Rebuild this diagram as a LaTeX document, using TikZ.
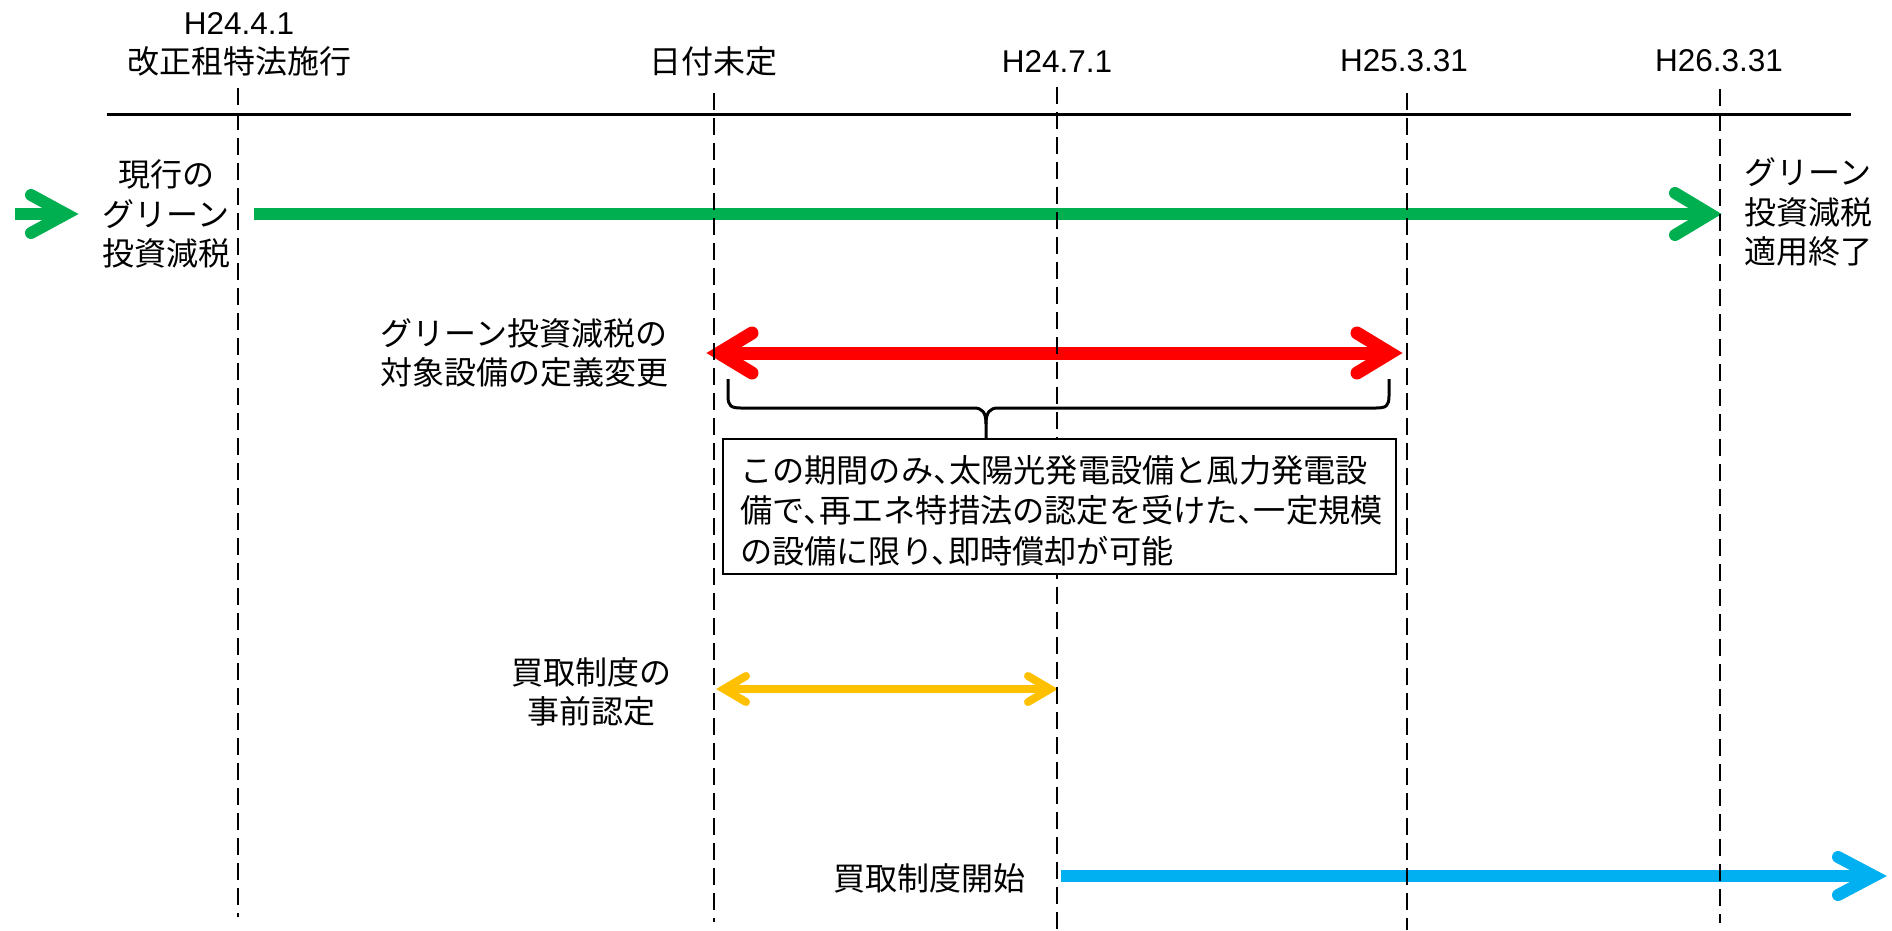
\documentclass[tikz,border=0pt]{standalone}
\usepackage{fontspec}
\setmainfont{Liberation Sans}
\newfontfamily\cjk[RawFeature=+halt]{Noto Sans CJK JP}
\usetikzlibrary{calc}
\definecolor{grn}{HTML}{00B050}
\definecolor{rd}{HTML}{FF0000}
\definecolor{ylw}{HTML}{FFC000}
\definecolor{blu}{HTML}{00B0F0}
\begin{document}
\begin{tikzpicture}[x=1pt,y=-1pt,
  jp/.style={font=\cjk\fontsize{32}{39.5}\selectfont, align=center, inner sep=0pt},
  lat/.style={font=\fontsize{31.5}{38}\selectfont, inner sep=0pt},
  guide/.style={line width=2.2pt, dash pattern=on 17pt off 8pt},
  axisline/.style={line width=3pt},
  shaft/.style={line width=12pt},
  head/.style={line width=12pt, line cap=round, line join=miter},
  bracepath/.style={line width=3pt},
  notebox/.style={draw, line width=2.5pt, fill=white, minimum width=673pt, minimum height=135pt, inner sep=0pt},
  notetext/.style={text width=639pt, align=left, inner sep=0pt, font=\cjk\fontsize{32.2}{40.5}\selectfont},
]
\useasboundingbox (0,0) rectangle (1892,930);

% axis
\coordinate (aL) at (107,114);
\coordinate (aR) at (1851,114);
\draw[axisline] (aL) -- (aR);

% green arrows
\coordinate (sW) at (15,214);
\coordinate (sE) at (78,214);
\draw[shaft, grn] (sW) -- ($(sE)+(-12,0)$);
\draw[head, grn, shift={(sE)}] (-47,-19) -- (-12,0) -- (-47,19);

\coordinate (gW) at (254,214);
\coordinate (gE) at (1722,214);
\draw[shaft, grn] (gW) -- ($(gE)+(-12,0)$);
\draw[head, grn, shift={(gE)}] (-47,-21) -- (-12,0) -- (-47,21);

% red double arrow
\coordinate (rW) at (707,353);
\coordinate (rE) at (1402,353);
\draw[shaft, rd, line width=13pt] ($(rW)+(12,0)$) -- ($(rE)+(-12,0)$);
\draw[head, rd, line width=13pt, shift={(rE)}] (-45,-20) -- (-12,0) -- (-45,20);
\draw[head, rd, line width=13pt, shift={(rW)}] (45,-20) -- (12,0) -- (45,20);

% yellow double arrow
\coordinate (yW) at (716,689);
\coordinate (yE) at (1058,689);
\draw[shaft, ylw, line width=8pt] ($(yW)+(8,0)$) -- ($(yE)+(-8,0)$);
\draw[head, ylw, line width=8pt, shift={(yE)}] (-30,-13) -- (-8,0) -- (-30,13);
\draw[head, ylw, line width=8pt, shift={(yW)}] (30,-13) -- (8,0) -- (30,13);

% blue arrow
\coordinate (bW) at (1061,876);
\coordinate (bE) at (1886,876);
\draw[shaft, blu] (bW) -- ($(bE)+(-12,0)$);
\draw[head, blu, shift={(bE)}] (-48,-19) -- (-12,0) -- (-48,19);

% guides
\foreach \n/\x/\t/\b in {1/238/88/917, 2/714/93/922, 3/1057/87/930, 4/1407/93/930, 5/1720/89/923} {
  \coordinate (t\n) at (\x,\t);
  \coordinate (b\n) at (\x,\b);
  \draw[guide] (t\n) -- (b\n);
}

% note box and brace
\node[notebox] (note) at (1059.5,506.5) {};
\node[notetext] (notetxt) at (1059.5,510.5) {この期間のみ、太陽光発電設備と風力発電設\\備で、再エネ特措法の認定を受けた、一定規模\\の設備に限り、即時償却が可能};
\draw[bracepath] (728,379) -- (728,396) .. controls (728,406) and (731,408) .. (741,408) -- (974,408) .. controls (982,408) and (986,412) .. (986,424) -- (986,439);
\draw[bracepath] (1389,379) -- (1389,396) .. controls (1389,406) and (1386,408) .. (1376,408) -- (998,408) .. controls (990,408) and (986,412) .. (986,424);

% labels
\node[lat] (d1) at (239,23) {H24.4.1};
\node[jp] (d1b) at (239,61) {改正租特法施行};
\node[jp] (d2) at (713,61) {日付未定};
\node[lat] (d3) at (1057,61) {H24.7.1};
\node[lat] (d4) at (1404,61) {H25.3.31};
\node[lat] (d5) at (1719,61) {H26.3.31};

\node[jp] (cur) at (166,214) {現行の\\グリーン\\投資減税};
\node[jp] (fin) at (1808,212) {グリーン\\投資減税\\適用終了};
\node[jp] (redl) at (524,353) {グリーン投資減税の\\対象設備の定義変更};
\node[jp] (ylab) at (591,692) {買取制度の\\事前認定};
\node[jp] (blab) at (929,878) {買取制度開始};
\end{tikzpicture}
\end{document}
